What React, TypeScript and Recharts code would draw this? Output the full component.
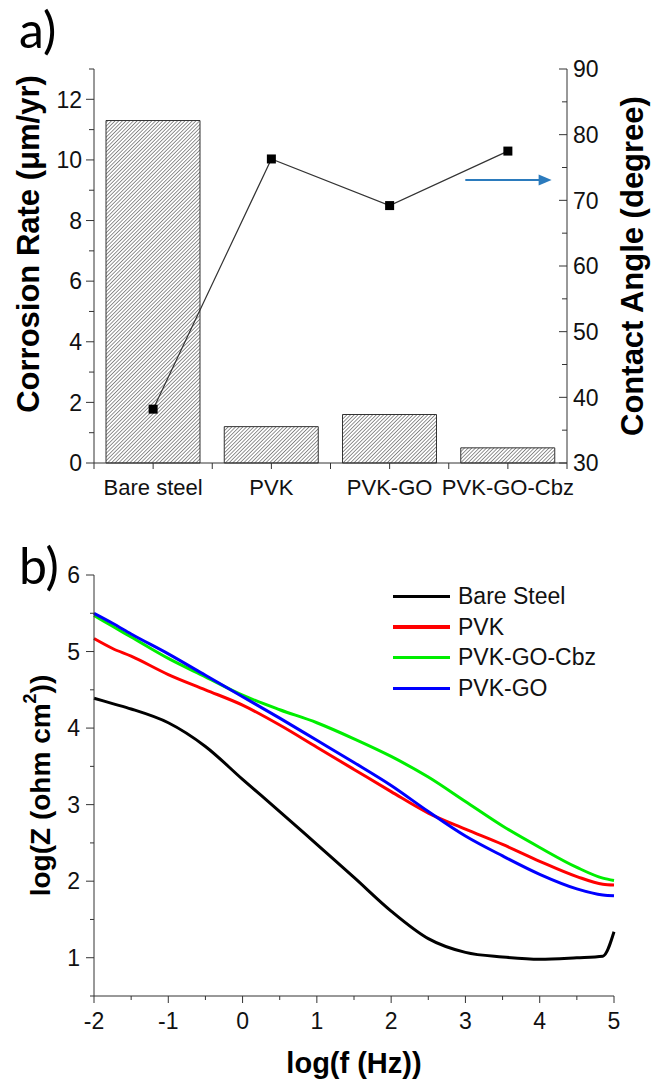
import React from "react";
import {
  ComposedChart,
  LineChart,
  Bar,
  Line,
  XAxis,
  YAxis,
  Legend,
  ReferenceLine
} from "recharts";

// panel a) corrosion rate (bars) + contact angle (line)
const coatings = ["Bare steel", "PVK", "PVK-GO", "PVK-GO-Cbz"];
const corrosionRate = [11.3, 1.2, 1.6, 0.5];
const contactAngle = [38.2, 76.3, 69.2, 77.5];
const rateTicks = [0, 1, 2, 3, 4, 5, 6, 7, 8, 9, 10, 11, 12, 13];
const angleTicks = [30, 35, 40, 45, 50, 55, 60, 65, 70, 75, 80, 85, 90];
const slotTicks = [-0.5, 0, 0.5, 1, 1.5, 2, 2.5, 3, 3.5];
const arrowSpan = [2.64, 3.37];
const arrowLevel = 73.1;

// panel b) Bode impedance
const logF = [-2, -1.75, -1.5, -1, -0.5, 0, 0.5, 1, 1.5, 2, 2.5, 3, 3.5, 4, 4.5, 4.85, 5];
const bareSteel = [4.39, 4.32, 4.25, 4.07, 3.76, 3.33, 2.91, 2.48, 2.05, 1.61, 1.25, 1.07, 1.01, 0.98, 1.0, 1.02, 1.34];
const pvk = [5.17, 5.04, 4.94, 4.7, 4.5, 4.3, 4.04, 3.75, 3.46, 3.17, 2.89, 2.68, 2.48, 2.26, 2.06, 1.96, 1.95];
const pvkGoCbz = [5.47, 5.33, 5.19, 4.91, 4.67, 4.43, 4.24, 4.07, 3.86, 3.63, 3.36, 3.04, 2.72, 2.44, 2.18, 2.04, 2.01];
const pvkGo = [5.5, 5.37, 5.23, 4.97, 4.69, 4.41, 4.13, 3.84, 3.55, 3.25, 2.91, 2.59, 2.33, 2.09, 1.9, 1.82, 1.81];
const freqTicks = [-2, -1.5, -1, -0.5, 0, 0.5, 1, 1.5, 2, 2.5, 3, 3.5, 4, 4.5, 5];
const zTicks = [0.5, 1, 1.5, 2, 2.5, 3, 3.5, 4, 4.5, 5, 5.5, 6];

const series = [
  { key: "bare", name: "Bare Steel", color: "#000000", values: bareSteel },
  { key: "pvk", name: "PVK", color: "#ff0000", values: pvk },
  { key: "cbz", name: "PVK-GO-Cbz", color: "#00ee00", values: pvkGoCbz },
  { key: "go", name: "PVK-GO", color: "#0000ff", values: pvkGo }
];

const topRows = coatings.map((name, i) => ({
  idx: i,
  name,
  rate: corrosionRate[i],
  angle: contactAngle[i]
}));

const bodeRows = logF.map((f, i) => {
  const row: Record<string, number> = { f };
  series.forEach((s) => {
    row[s.key] = s.values[i];
  });
  return row;
});

const AXIS = "#333";
const FONT = "'Liberation Sans', Arial, sans-serif";
const TICK_FS = 23;

// ticks drawn by hand so major/minor lengths differ
function leftTick(isMajor: (v: number) => boolean, major: number, minor: number, gap: number) {
  return (props: any) => {
    const { x, y, payload } = props;
    const v = payload.value;
    const big = isMajor(v);
    return (
      <g>
        <line x1={x} y1={y} x2={x - (big ? major : minor)} y2={y} stroke={AXIS} />
        {big && (
          <text x={x - major - gap} y={y} dy="0.36em" textAnchor="end" fontSize={TICK_FS} fontFamily={FONT} fill="#111">
            {v}
          </text>
        )}
      </g>
    );
  };
}

const angleTick = (props: any) => {
  const { x, y, payload } = props;
  const v = payload.value;
  const big = v % 10 === 0;
  return (
    <g>
      <line x1={x} y1={y} x2={x - (big ? 8 : 5)} y2={y} stroke={AXIS} />
      {big && (
        <text x={x + 6} y={y} dy="0.36em" textAnchor="start" fontSize={TICK_FS} fontFamily={FONT} fill="#111">
          {v}
        </text>
      )}
    </g>
  );
};

const slotTick = (props: any) => {
  const { x, y, payload } = props;
  const v = payload.value;
  const isCat = Number.isInteger(v);
  return (
    <g>
      <line x1={x} y1={y} x2={x} y2={y + 6} stroke={AXIS} />
      {isCat && (
        <text x={x} y={y + 24} dy="0.36em" textAnchor="middle" fontSize={22} fontFamily={FONT} fill="#111">
          {coatings[v]}
        </text>
      )}
    </g>
  );
};

const freqTick = (props: any) => {
  const { x, y, payload } = props;
  const v = payload.value;
  const big = Number.isInteger(v);
  return (
    <g>
      <line x1={x} y1={y} x2={x} y2={y + (big ? 7 : 4)} stroke={AXIS} />
      {big && (
        <text x={x} y={y + 25} dy="0.36em" textAnchor="middle" fontSize={TICK_FS} fontFamily={FONT} fill="#111">
          {v}
        </text>
      )}
    </g>
  );
};

const SquareDot = (props: any) => {
  const { cx, cy } = props;
  if (cx == null || cy == null) return null;
  return <rect x={cx - 4.5} y={cy - 4.5} width={9} height={9} fill="#000" />;
};

const ArrowShape = (props: any) => {
  const { x1, y1, x2, y2 } = props;
  const c = "#2b7bbd";
  return (
    <g>
      <line x1={x1} y1={y1} x2={x2 - 10} y2={y2} stroke={c} strokeWidth={2} />
      <polygon points={`${x2},${y2} ${x2 - 13},${y2 - 5.5} ${x2 - 13},${y2 + 5.5}`} fill={c} />
    </g>
  );
};

const rotLabel = (text: React.ReactNode, dxFromLeft: number, dyFromCenter: number, size: number) =>
  (props: any) => {
    const vb = props.viewBox || {};
    const cx = vb.x + dxFromLeft;
    const cy = vb.y + vb.height / 2 + dyFromCenter;
    return (
      <text
        x={cx}
        y={cy}
        transform={`rotate(-90 ${cx} ${cy})`}
        textAnchor="middle"
        dominantBaseline="central"
        fontSize={size}
        fontWeight="bold"
        fontFamily={FONT}
        fill="#000"
      >
        {text}
      </text>
    );
  };

// legend keeps the series order (recharts would sort it by name)
const BodeLegend = () => (
  <div style={{ fontFamily: FONT, fontSize: 23, color: "#111" }}>
    {series.map((s) => (
      <div key={s.key} style={{ display: "flex", alignItems: "center", height: 30.7 }}>
        <div style={{ width: 57, height: 3.5, background: s.color, marginRight: 8 }} />
        <span>{s.name}</span>
      </div>
    ))}
  </div>
);

export default function App() {
  return (
    <div style={{ position: "absolute", left: 0, top: 0, width: 651, height: 1080, background: "#fff" }}>
      <div style={{ position: "absolute", left: 19, top: 4, fontFamily: "Lato", fontSize: 50, lineHeight: 1 }}>a)</div>
      <div style={{ position: "absolute", left: 0, top: 0 }}>
        <ComposedChart width={651} height={520} data={topRows} margin={{ top: 69, right: 0, bottom: 17, left: 0 }}>
          <defs>
            <pattern id="hatch" patternUnits="userSpaceOnUse" width={2.6} height={2.6} patternTransform="rotate(45)">
              <rect width={2.6} height={2.6} fill="#fff" />
              <line x1={0} y1={0} x2={0} y2={2.6} stroke="#3a3a3a" strokeWidth={1.1} />
            </pattern>
          </defs>
          <XAxis
            xAxisId="b"
            type="number"
            dataKey="idx"
            domain={[-0.5, 3.5]}
            ticks={slotTicks}
            tick={slotTick}
            tickLine={false}
            tickSize={0}
            tickMargin={0}
            height={40}
            axisLine={{ stroke: AXIS }}
            interval={0}
          />
          <XAxis xAxisId="t" orientation="top" type="number" domain={[-0.5, 3.5]} tick={false} tickLine={false} height={0} axisLine={{ stroke: AXIS }} />
          <YAxis
            yAxisId="l"
            domain={[0, 13]}
            ticks={rateTicks}
            tick={leftTick((v) => v % 2 === 0, 8, 5, 4)}
            tickLine={false}
            tickSize={0}
            tickMargin={0}
            width={94}
            interval={0}
            axisLine={{ stroke: AXIS }}
            label={{ content: rotLabel("Corrosion Rate (\u03bcm/yr)", 28, -22, 31) }}
          />
          <YAxis
            yAxisId="r"
            orientation="right"
            domain={[30, 90]}
            ticks={angleTicks}
            tick={angleTick}
            tickLine={false}
            tickSize={0}
            tickMargin={0}
            width={84}
            interval={0}
            axisLine={{ stroke: AXIS }}
            label={{ content: rotLabel("Contact Angle (degree)", 65, 0, 31) }}
          />
          <Bar xAxisId="b" yAxisId="l" dataKey="rate" fill="url(#hatch)" stroke="#333" strokeWidth={1} barSize={94} isAnimationActive={false} />
          <Line
            xAxisId="b"
            yAxisId="r"
            dataKey="angle"
            type="linear"
            stroke="#333"
            strokeWidth={1.2}
            dot={<SquareDot />}
            activeDot={false}
            isAnimationActive={false}
          />
          <ReferenceLine
            xAxisId="b"
            yAxisId="r"
            segment={[
              { x: arrowSpan[0], y: arrowLevel },
              { x: arrowSpan[1], y: arrowLevel }
            ]}
            shape={ArrowShape}
            ifOverflow="visible"
          />
        </ComposedChart>
      </div>

      <div style={{ position: "absolute", left: 19, top: 540, fontFamily: "Lato", fontSize: 50, lineHeight: 1 }}>b)</div>
      <div style={{ position: "absolute", left: 0, top: 520 }}>
        <LineChart width={651} height={560} data={bodeRows} margin={{ top: 55, right: 37, bottom: 0, left: 0 }}>
          <XAxis
            xAxisId="b"
            type="number"
            dataKey="f"
            domain={[-2, 5]}
            ticks={freqTicks}
            tick={freqTick}
            tickLine={false}
            tickSize={0}
            tickMargin={0}
            height={84}
            interval={0}
            axisLine={{ stroke: AXIS }}
            label={{
              content: (p: any) => {
                const vb = p.viewBox || {};
                return (
                  <text x={vb.x + vb.width / 2} y={vb.y + 67} textAnchor="middle" dominantBaseline="central" fontSize={29} fontWeight="bold" fontFamily={FONT}>
                    log(f (Hz))
                  </text>
                );
              }
            }}
          />
          <XAxis xAxisId="t" orientation="top" type="number" domain={[-2, 5]} tick={false} tickLine={false} height={0} axisLine={{ stroke: AXIS }} />
          <YAxis
            yAxisId="l"
            domain={[0.5, 6]}
            ticks={zTicks}
            tick={leftTick((v) => Number.isInteger(v), 8, 4, 6)}
            tickLine={false}
            tickSize={0}
            tickMargin={0}
            width={94}
            interval={0}
            axisLine={{ stroke: AXIS }}
            label={{
              content: rotLabel(
                <>
                  log(Z (ohm cm
                  <tspan dy={-10} fontSize={18}>2</tspan>
                  <tspan dy={10}>))</tspan>
                </>,
                40,
                0,
                28
              )
            }}
          />
          <YAxis yAxisId="r" orientation="right" domain={[0.5, 6]} tick={false} tickLine={false} width={0} axisLine={{ stroke: AXIS }} />
          <Legend
            layout="vertical"
            align="center"
            verticalAlign="middle"
            content={<BodeLegend />}
            wrapperStyle={{ left: 393, top: 61, width: 240, height: 124 }}
          />
          {series.map((s) => (
            <Line
              key={s.key}
              xAxisId="b"
              yAxisId="l"
              dataKey={s.key}
              name={s.name}
              type="monotone"
              stroke={s.color}
              strokeWidth={3}
              dot={false}
              activeDot={false}
              isAnimationActive={false}
            />
          ))}
        </LineChart>
      </div>
    </div>
  );
}
